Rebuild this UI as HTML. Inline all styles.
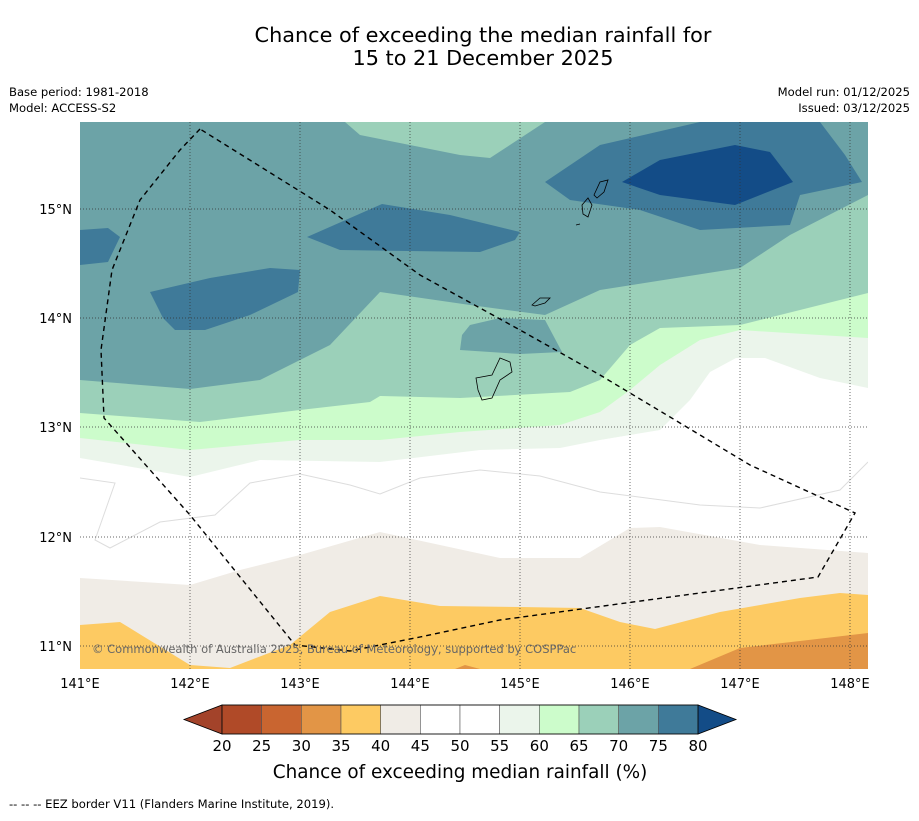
<!DOCTYPE html>
<html><head><meta charset="utf-8"><style>
body{margin:0;background:#fff;font-family:"Liberation Sans",sans-serif;}
svg text{font-family:"DejaVu Sans","Liberation Sans",sans-serif;}
</style></head><body>
<svg width="919" height="816" viewBox="0 0 919 816" xmlns="http://www.w3.org/2000/svg">
<rect width="919" height="816" fill="#fff"/>
<text x="483" y="42" font-size="20.8" text-anchor="middle">Chance of exceeding the median rainfall for</text>
<text x="483" y="65" font-size="20.8" text-anchor="middle">15 to 21 December 2025</text>
<text x="9" y="96" font-size="11.6">Base period: 1981-2018</text>
<text x="9" y="112" font-size="11.6">Model: ACCESS-S2</text>
<text x="910" y="96" font-size="11.6" text-anchor="end">Model run: 01/12/2025</text>
<text x="910" y="112" font-size="11.6" text-anchor="end">Issued: 03/12/2025</text>
<defs><clipPath id="mc"><rect x="80" y="122" width="788" height="547"/></clipPath></defs>
<g clip-path="url(#mc)">
<rect x="80" y="122" width="788" height="547" fill="#6ca3a7"/>
<polygon fill="#9bd0b9" points="80,380 190,389 260,380 330,345 380,292 470,305 545,315 600,290 740,268 790,235 868,195 868,669 80,669"/>
<polygon fill="#6ca3a7" points="470,325 500,318 545,320 562,352 520,354 460,350 462,335"/>
<polygon fill="#ccfccb" points="80,413 200,422 300,410 370,402 380,396 460,398 570,392 600,380 630,345 660,328 740,325 868,293 868,669 80,669"/>
<polygon fill="#ebf5eb" points="80,438 190,450 300,440 380,440 460,432 560,425 600,412 630,390 660,365 700,340 740,330 868,338 868,669 80,669"/>
<polygon fill="#ffffff" points="80,458 190,477 260,460 380,462 480,450 560,448 600,440 660,430 690,400 710,372 736,358 765,358 820,378 868,388 868,669 80,669"/>
<polyline fill="none" stroke="#ddd" stroke-width="1" points="80,478 115,483 95,540 110,548 160,522 215,515 250,483 300,474 350,485 380,494 420,478 480,470 540,476 600,492 700,505 760,508 840,490 868,462"/>
<polygon fill="#f0ece6" points="80,578 190,585 240,570 300,555 380,532 440,545 500,558 580,558 630,528 660,527 760,545 868,553 868,669 80,669"/>
<polygon fill="#fdca62" points="80,625 120,622 190,665 230,668 290,645 330,612 380,596 440,606 520,607 580,608 620,622 655,629 720,612 800,598 840,593 868,595 868,669 80,669"/>
<polygon fill="#e29546" points="690,669 740,648 800,641 868,633 868,669"/>
<polygon fill="#e29546" points="455,669 465,665 480,669"/>
<polygon fill="#9bd0b9" points="345,122 545,122 490,158 460,155 360,135"/>
<polygon fill="#3f7a99" points="80,230 108,228 120,237 108,262 80,265"/>
<polygon fill="#3f7a99" points="150,292 210,278 270,268 300,270 298,292 250,315 205,330 175,330 163,318"/>
<polygon fill="#3f7a99" points="307,237 382,204 450,215 520,232 515,240 480,252 340,250"/>
<polygon fill="#3f7a99" points="545,182 600,145 700,122 820,122 845,155 862,182 800,195 790,225 700,230 640,210 570,200"/>
<polygon fill="#134c87" points="622,182 660,160 735,145 770,152 793,182 735,205 660,195"/>
<g fill="none" stroke="#000" stroke-width="0.8">
<path d="M476,378 L492,375 L500,358 L510,362 L512,372 L500,380 L492,398 L482,400 L478,390 Z"/>
<path d="M532,305 L540,298 L550,298 L545,303 L535,306 Z"/>
<path d="M582,205 L588,198 L592,205 L588,217 L583,214 Z"/>
<path d="M594,195 L600,182 L608,180 L604,192 L597,198 Z"/>
<path d="M576,225 L580,224"/>
</g>
<g stroke="#333" stroke-width="0.7" stroke-dasharray="1,2">
<line x1="190" y1="122" x2="190" y2="669"/><line x1="300" y1="122" x2="300" y2="669"/><line x1="410" y1="122" x2="410" y2="669"/><line x1="520" y1="122" x2="520" y2="669"/><line x1="630" y1="122" x2="630" y2="669"/><line x1="740" y1="122" x2="740" y2="669"/><line x1="850" y1="122" x2="850" y2="669"/>
<line x1="80" y1="209" x2="868" y2="209"/><line x1="80" y1="318" x2="868" y2="318"/><line x1="80" y1="427" x2="868" y2="427"/><line x1="80" y1="537" x2="868" y2="537"/><line x1="80" y1="646" x2="868" y2="646"/>
</g>
<polyline fill="none" stroke="#000" stroke-width="1.4" stroke-dasharray="5,4" points="200,129 180,150 140,200 112,270 101,350 104,418 190,515 295,645 350,651 420,637 500,620 818,577 855,513 750,465 600,375 520,330 420,275 330,210 200,129"/>
<text x="92" y="653" font-size="11.5" fill="#666">© Commonwealth of Australia 2025, Bureau of Meteorology, supported by COSPPac</text>
</g>
<g font-size="13">
<text x="72" y="214" text-anchor="end">15°N</text><text x="72" y="323" text-anchor="end">14°N</text><text x="72" y="432" text-anchor="end">13°N</text><text x="72" y="542" text-anchor="end">12°N</text><text x="72" y="651" text-anchor="end">11°N</text>
</g>
<g font-size="13" text-anchor="middle">
<text x="80" y="688">141°E</text><text x="190" y="688">142°E</text><text x="300" y="688">143°E</text><text x="410" y="688">144°E</text><text x="520" y="688">145°E</text><text x="630" y="688">146°E</text><text x="740" y="688">147°E</text><text x="850" y="688">148°E</text>
</g>
<g id="cbar"></g>
<text x="460" y="778" font-size="18.4" text-anchor="middle">Chance of exceeding median rainfall (%)</text>
<text x="9" y="808" font-size="11.6">--  --  -- EEZ border V11 (Flanders Marine Institute, 2019).</text>
</svg>
<script>
const levels=[20,25,30,35,40,45,50,55,60,65,70,75,80];
const colors=["#b04a28","#c96530","#e29546","#fdca62","#f0ece6","#ffffff","#ffffff","#ebf5eb","#ccfccb","#9bd0b9","#6ca3a7","#3f7a99"];
const underColor="#a3432a", overColor="#134c87";
const ns="http://www.w3.org/2000/svg";
const g=document.getElementById('cbar');
const x0=222,x1=698,y0=705,h=29;
const sx=v=>x0+(v-levels[0])/(levels[levels.length-1]-levels[0])*(x1-x0);
function mk(t,a){const e=document.createElementNS(ns,t);for(const k in a)e.setAttribute(k,a[k]);g.appendChild(e);return e;}
let u=mk('polygon',{points:`184,${y0+h/2} ${x0},${y0} ${x0},${y0+h}`,fill:underColor,stroke:'#000','stroke-width':0.8});


let o=mk('polygon',{points:`736,${y0+h/2} ${x1},${y0} ${x1},${y0+h}`,fill:overColor,stroke:'#000','stroke-width':0.8});


colors.forEach((c,i)=>{
 const r=mk('rect',{x:sx(levels[i]),y:y0,width:sx(levels[i+1])-sx(levels[i]),height:h,fill:c,stroke:'#555','stroke-width':0.6});
 
 
});
mk('rect',{x:x0,y:y0,width:x1-x0,height:h,fill:'none',stroke:'#000','stroke-width':0.8});
levels.forEach(v=>{
 const t=mk('text',{x:sx(v),y:751,'font-size':15,'text-anchor':'middle'});
 t.textContent=v;
 
 
});
</script>
</body></html>
